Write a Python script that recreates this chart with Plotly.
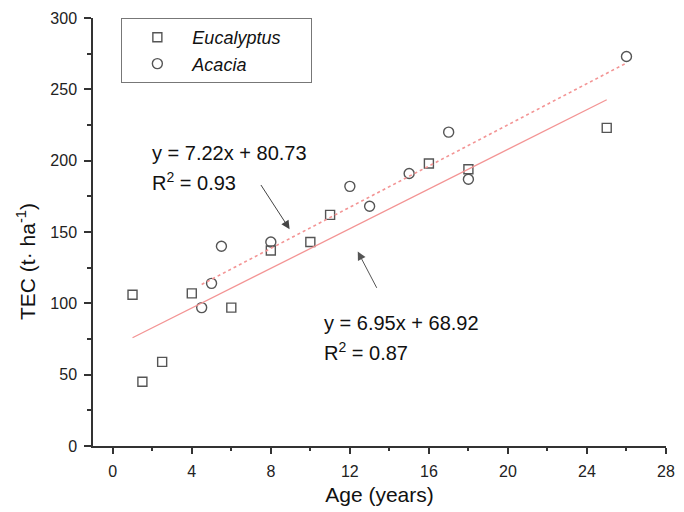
import plotly.graph_objects as go

# ---- data ----
euc_age = [1, 1.5, 2.5, 4, 6, 8, 10, 11, 16, 18, 25]
euc_tec = [106, 45, 59, 107, 97, 137, 143, 162, 198, 194, 223]
aca_age = [4.5, 5, 5.5, 8, 12, 13, 15, 17, 18, 26]
aca_tec = [97, 114, 140, 143, 182, 168, 191, 220, 187, 273]

euc_fit = {"slope": 6.95, "intercept": 68.92, "x": [1, 25], "r2": 0.87}
aca_fit = {"slope": 7.22, "intercept": 80.73, "x": [4.5, 26], "r2": 0.93}

x_ticks = [0, 4, 8, 12, 16, 20, 24, 28]
y_ticks = [0, 50, 100, 150, 200, 250, 300]

FONT = "Arial, Liberation Sans, sans-serif"
MK = "#555555"
RED = "#f39494"
AX = "#333333"
PAD = "&nbsp;" * 5

fig = go.Figure()

fig.add_trace(go.Scatter(
    x=euc_age, y=euc_tec, mode="markers", name="<i>Eucalyptus</i>" + PAD,
    marker=dict(symbol="square-open", size=9, color=MK, line=dict(width=1.4, color=MK))))
fig.add_trace(go.Scatter(
    x=aca_age, y=aca_tec, mode="markers", name="<i>Acacia</i>",
    marker=dict(symbol="circle-open", size=10, color=MK, line=dict(width=1.4, color=MK))))

for fit, dash, w in [(euc_fit, "solid", 1.3), (aca_fit, "dot", 1.6)]:
    fig.add_trace(go.Scatter(
        x=fit["x"], y=[fit["slope"] * v + fit["intercept"] for v in fit["x"]],
        mode="lines", line=dict(color=RED, width=w, dash=dash), showlegend=False,
        hoverinfo="skip"))

EQ_FONT = dict(family=FONT, size=20, color="#111")
ann = []
# equations
ann.append(dict(x=1.9, y=205.5, xref="x", yref="y", xanchor="left", yanchor="middle",
                text=f"y = {aca_fit['slope']:.2f}x + {aca_fit['intercept']:.2f}", showarrow=False,
                font=EQ_FONT))
ann.append(dict(x=1.9, y=185.6, xref="x", yref="y", xanchor="left", yanchor="middle",
                text=f"R<sup>2</sup> = {aca_fit['r2']:.2f}", showarrow=False, font=EQ_FONT))
ann.append(dict(x=10.58, y=86.4, xref="x", yref="y", xanchor="left", yanchor="middle",
                text=f"y = {euc_fit['slope']:.2f}x + {euc_fit['intercept']:.2f}", showarrow=False,
                font=EQ_FONT))
ann.append(dict(x=10.58, y=66.5, xref="x", yref="y", xanchor="left", yanchor="middle",
                text=f"R<sup>2</sup> = {euc_fit['r2']:.2f}", showarrow=False, font=EQ_FONT))
# arrows
ann.append(dict(x=8.95, y=152, ax=7.45, ay=184, xref="x", yref="y", axref="x", ayref="y",
                text="", showarrow=True, arrowhead=2, arrowsize=1.7, arrowwidth=1,
                arrowcolor="#444444", standoff=0, startstandoff=0))
ann.append(dict(x=12.4, y=136.3, ax=13.4, ay=109.8, xref="x", yref="y", axref="x", ayref="y",
                text="", showarrow=True, arrowhead=2, arrowsize=1.7, arrowwidth=1,
                arrowcolor="#555555", standoff=0, startstandoff=0))
# y title
ann.append(dict(x=0, y=0.43, xref="paper", yref="paper", xshift=-67, textangle=-90,
                xanchor="center", yanchor="middle", showarrow=False,
                text="TEC (t· ha<sup>-1</sup>)", font=dict(family=FONT, size=21, color="#111")))

fig.update_layout(
    width=684, height=512,
    margin=dict(l=93, r=9, t=18, b=65),
    paper_bgcolor="white", plot_bgcolor="white",
    font=dict(family=FONT, size=16, color="#222"),
    annotations=ann,
    showlegend=True,
    legend=dict(x=0.0495, y=1.0, xanchor="left", yanchor="top",
                bordercolor="#777777", borderwidth=1, bgcolor="white",
                font=dict(family=FONT, size=18, color="#111"),
                itemwidth=60, tracegroupgap=0),
)
fig.update_xaxes(
    range=[-1, 28], tickvals=x_ticks, ticktext=[str(v) for v in x_ticks],
    showline=True, linecolor=AX, linewidth=1.5, ticks="outside", ticklen=6,
    tickwidth=1.5, tickcolor=AX, showgrid=False, zeroline=False,
    ticklabelstandoff=4,
    minor=dict(dtick=2, tick0=0, ticks="outside", ticklen=3, tickwidth=1.5, tickcolor=AX,
               showgrid=False),
    title=dict(text="Age (years)", font=dict(family=FONT, size=21, color="#111"), standoff=8),
)
fig.update_yaxes(
    range=[0, 300], tickvals=y_ticks, ticktext=[str(v) for v in y_ticks],
    showline=True, linecolor=AX, linewidth=1.5, ticks="outside", ticklen=7,
    tickwidth=1.5, tickcolor=AX, showgrid=False, zeroline=False,
    ticklabelstandoff=4,
    minor=dict(dtick=25, tick0=0, ticks="outside", ticklen=4, tickwidth=1.5, tickcolor=AX,
               showgrid=False),
)

fig.write_html("out.html", config={"displayModeBar": False},
               post_script="document.body.style.margin='0';document.body.style.overflow='hidden';")
